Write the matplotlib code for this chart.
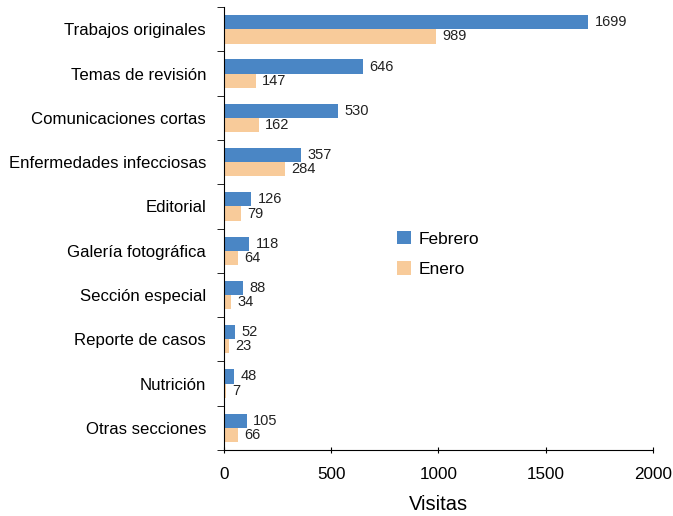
import numpy as np
import matplotlib.pyplot as plt

plt.rcParams['font.family'] = ['Liberation Sans', 'DejaVu Sans']

categorias = ["Trabajos originales", "Temas de revisión", "Comunicaciones cortas",
              "Enfermedades infecciosas", "Editorial", "Galería fotográfica",
              "Sección especial", "Reporte de casos", "Nutrición", "Otras secciones"]
febrero = [1699, 646, 530, 357, 126, 118, 88, 52, 48, 105]
enero = [989, 147, 162, 284, 79, 64, 34, 23, 7, 66]

azul = "#4a86c5"
naranja = "#f8cb9a"

fig = plt.figure(figsize=(6.73, 5.16), dpi=100)
ax = fig.add_axes([0.333, 0.128, 0.637, 0.858])

y = np.arange(len(categorias))
h = 0.32
b1 = ax.barh(y - h / 2, febrero, height=h, color=azul, label="Febrero")
b2 = ax.barh(y + h / 2, enero, height=h, color=naranja, label="Enero")
for bars, vals in ((b1, febrero), (b2, enero)):
    for r, v in zip(bars, vals):
        ax.text(v + 30, r.get_y() + r.get_height() / 2, str(v),
                va="center", ha="left", fontsize=10.5, color="#222222")

ax.set_ylim(len(categorias) - 0.5, -0.5)
ax.set_xlim(0, 2000)
ax.set_xticks([0, 500, 1000, 1500, 2000])
ax.set_yticks(y)
ax.set_yticklabels(categorias, fontsize=12.1)
ax.set_yticks(np.arange(-0.5, len(categorias)), minor=True)
ax.tick_params(axis="y", which="major", length=0, pad=13)
ax.tick_params(axis="y", which="minor", length=5, direction="out")
ax.tick_params(axis="x", which="major", length=5, direction="inout", labelsize=12.3, pad=10)
for s in ("top", "right"):
    ax.spines[s].set_visible(False)
ax.set_xlabel("Visitas", fontsize=14.5, labelpad=9)

ax.legend(loc="upper left", bbox_to_anchor=(0.368, 0.53), frameon=False,
          fontsize=12.5, handlelength=0.8, handleheight=0.8, labelspacing=0.85,
          handletextpad=0.4)

fig.savefig("out.png", dpi=100)
